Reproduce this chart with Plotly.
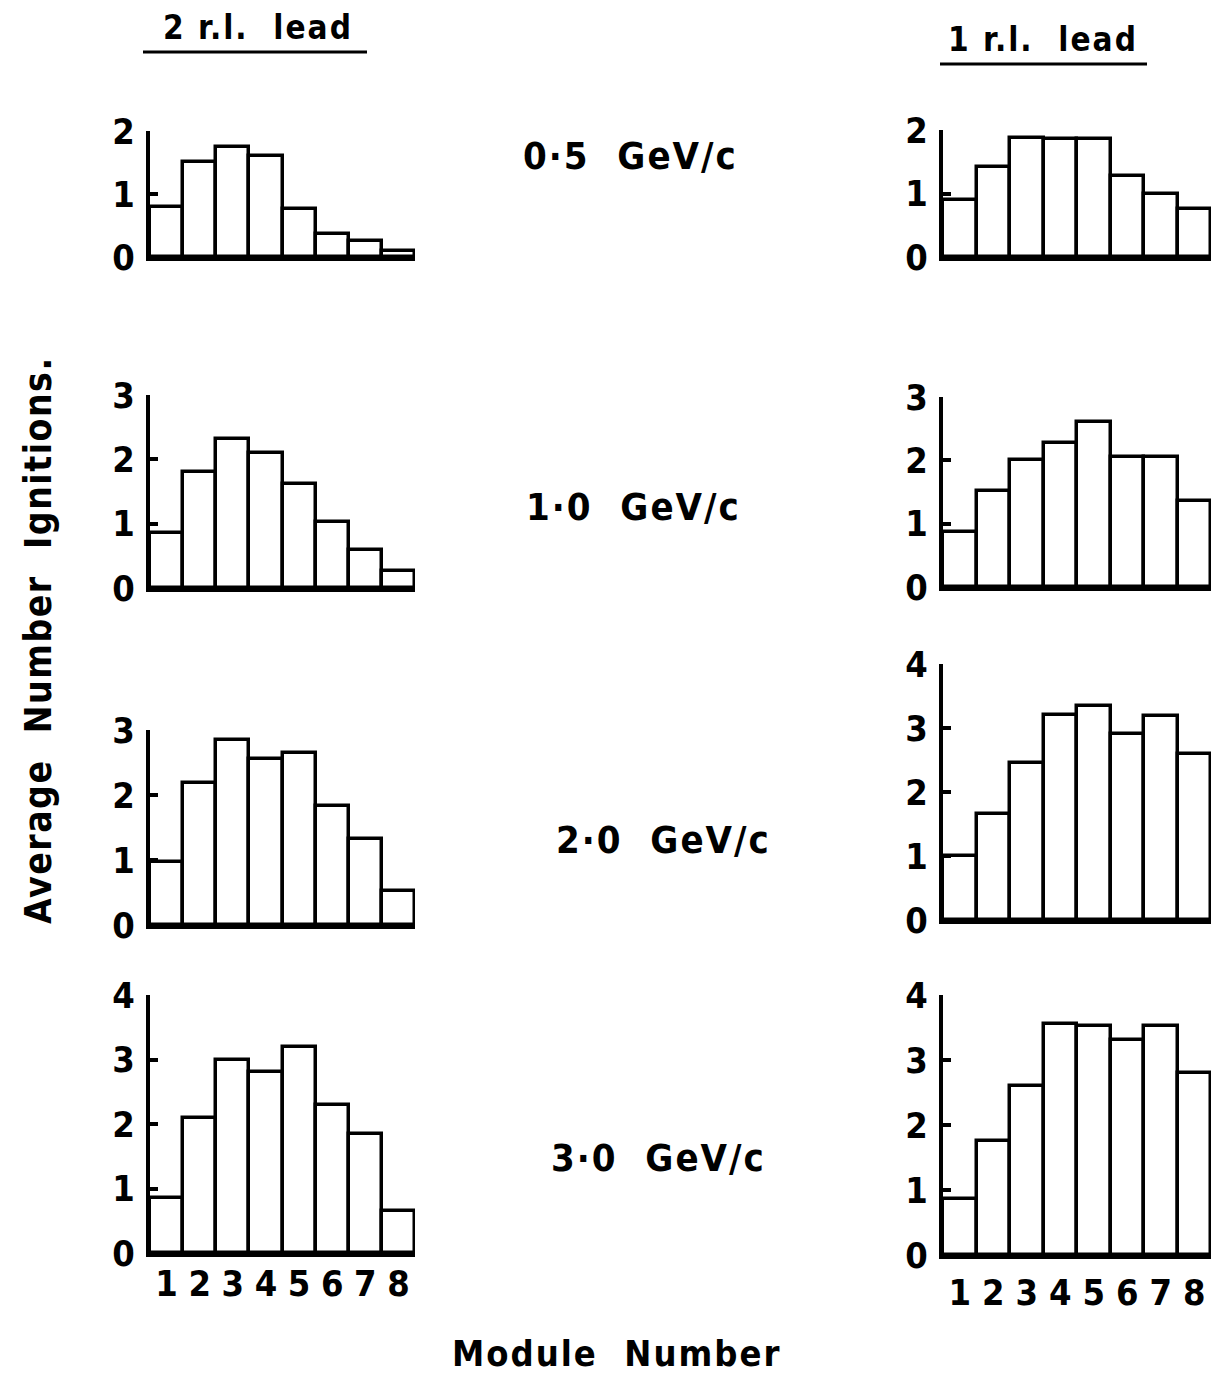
import plotly.graph_objects as go

modules = [1, 2, 3, 4, 5, 6, 7, 8]
module_labels = ["1", "2", "3", "4", "5", "6", "7", "8"]

# 2 radiation lengths lead (left column)
lead2_05 = [0.80, 1.51, 1.74, 1.60, 0.76, 0.37, 0.25, 0.10]
lead2_10 = [0.85, 1.80, 2.31, 2.10, 1.61, 1.02, 0.59, 0.26]
lead2_20 = [0.97, 2.18, 2.84, 2.55, 2.65, 1.83, 1.32, 0.53]
lead2_30 = [0.85, 2.10, 2.99, 2.80, 3.20, 2.30, 1.85, 0.65]

# 1 radiation length lead (right column)
lead1_05 = [0.89, 1.42, 1.88, 1.86, 1.86, 1.27, 1.00, 0.75]
lead1_10 = [0.87, 1.52, 2.00, 2.28, 2.60, 2.06, 2.05, 1.36]
lead1_20 = [1.00, 1.65, 2.45, 3.21, 3.34, 2.90, 3.18, 2.60]
lead1_30 = [0.86, 1.76, 2.60, 3.55, 3.52, 3.31, 3.52, 2.80]

momenta = ["0·5  GeV/c", "1·0  GeV/c", "2·0  GeV/c", "3·0  GeV/c"]
col_titles = ["2 r.l.  lead", "1 r.l.  lead"]
y_max = {"lead2": [2, 3, 3, 4], "lead1": [2, 3, 4, 4]}

W, H = 1221, 1377
FONT = "DejaVu Sans Condensed, DejaVu Sans, Liberation Sans"

def px(x):
    return x / W

def py(y):
    return 1 - y / H

def spaced(s, sp):
    return '<span style="letter-spacing:%.1fpx">%s</span>' % (sp, s)

# panel geometry in pixels: (x0, x1), (y_bottom, y_top)
left_x = (150, 415)
right_x = (943, 1211)
left_y = [(257, 131), (588, 395), (925, 730), (1253, 995)]
right_y = [(257, 130), (587, 397), (920, 664), (1255, 995)]

panels = [
    (lead2_05, left_x, left_y[0], y_max["lead2"][0], False, 0),
    (lead1_05, right_x, right_y[0], y_max["lead1"][0], False, 0),
    (lead2_10, left_x, left_y[1], y_max["lead2"][1], False, 0),
    (lead1_10, right_x, right_y[1], y_max["lead1"][1], False, 0),
    (lead2_20, left_x, left_y[2], y_max["lead2"][2], False, 0),
    (lead1_20, right_x, right_y[2], y_max["lead1"][2], False, 0),
    (lead2_30, left_x, left_y[3], y_max["lead2"][3], True, -4),
    (lead1_30, right_x, right_y[3], y_max["lead1"][3], True, 3),
]

fig = go.Figure()
layout = dict(
    width=W, height=H, autosize=False,
    margin=dict(l=0, r=0, t=0, b=0, pad=0, autoexpand=False),
    paper_bgcolor="white", plot_bgcolor="white",
    showlegend=False, bargap=0,
    font=dict(family=FONT, color="black"),
)

for i, (vals, xr, yr, ymax, show_x, xstand) in enumerate(panels):
    n = "" if i == 0 else str(i + 1)
    fig.add_trace(go.Bar(
        x=modules, y=vals, width=1,
        marker=dict(color="white", line=dict(color="black", width=3.5)),
        xaxis="x" + n, yaxis="y" + n, hoverinfo="skip",
    ))
    layout["xaxis" + n] = dict(
        domain=[px(xr[0]), px(xr[1])], range=[0.5, 8.5],
        anchor="y" + n, showgrid=False, zeroline=False, automargin=False,
        showline=True, linecolor="black", linewidth=4,
        ticks="", tickmode="array", tickvals=modules,
        ticktext=module_labels, showticklabels=show_x,
        tickfont=dict(size=36, family=FONT, color="black", weight=600),
        ticklabelstandoff=xstand,
    )
    layout["yaxis" + n] = dict(
        domain=[py(yr[0]), py(yr[1])], range=[0, ymax],
        anchor="x" + n, showgrid=False, zeroline=False, automargin=False,
        showline=True, linecolor="black", linewidth=4,
        ticks="inside", ticklen=8, tickwidth=3.5, tickcolor="black",
        tickmode="array", tickvals=list(range(0, ymax + 1)),
        tickfont=dict(size=36, family=FONT, color="black", weight=600),
        ticklabelstandoff=4,
    )

fig.update_layout(**layout)

annotations = []
shapes = []
# column titles with underline
for title, (cx, cy), (ux0, ux1, uy) in zip(
        col_titles, [(258, 27), (1043, 40)], [(143, 367, 52), (940, 1147, 64)]):
    annotations.append(dict(x=px(cx), y=py(cy), xref="paper", yref="paper",
                            xanchor="center", yanchor="middle",
                            text=spaced(title, 2), showarrow=False,
                            font=dict(size=33, family=FONT, color="black", weight=600)))
    shapes.append(dict(type="line", xref="paper", yref="paper",
                       x0=px(ux0), x1=px(ux1), y0=py(uy), y1=py(uy),
                       line=dict(color="black", width=3)))

# momentum labels
for lab, (cx, cy) in zip(momenta, [(630, 156), (633, 507), (663, 840), (658, 1158)]):
    annotations.append(dict(x=px(cx), y=py(cy), xref="paper", yref="paper",
                            xanchor="center", yanchor="middle",
                            text=spaced(lab, 2), showarrow=False,
                            font=dict(size=38, family=FONT, color="black", weight=600)))

annotations.append(dict(x=px(38), y=py(640), xref="paper", yref="paper",
                        xanchor="center", yanchor="middle",
                        text=spaced("Average  Number  Ignitions.", 1.5),
                        textangle=-90, showarrow=False,
                        font=dict(size=37, family=FONT, color="black", weight=600)))
annotations.append(dict(x=px(616), y=py(1353), xref="paper", yref="paper",
                        xanchor="center", yanchor="middle",
                        text=spaced("Module  Number", 2), showarrow=False,
                        font=dict(size=36, family=FONT, color="black", weight=600)))

fig.update_layout(annotations=annotations, shapes=shapes)

fig.write_html("out.html", config={"displayModeBar": False},
               post_script="document.body.style.margin='0';")
